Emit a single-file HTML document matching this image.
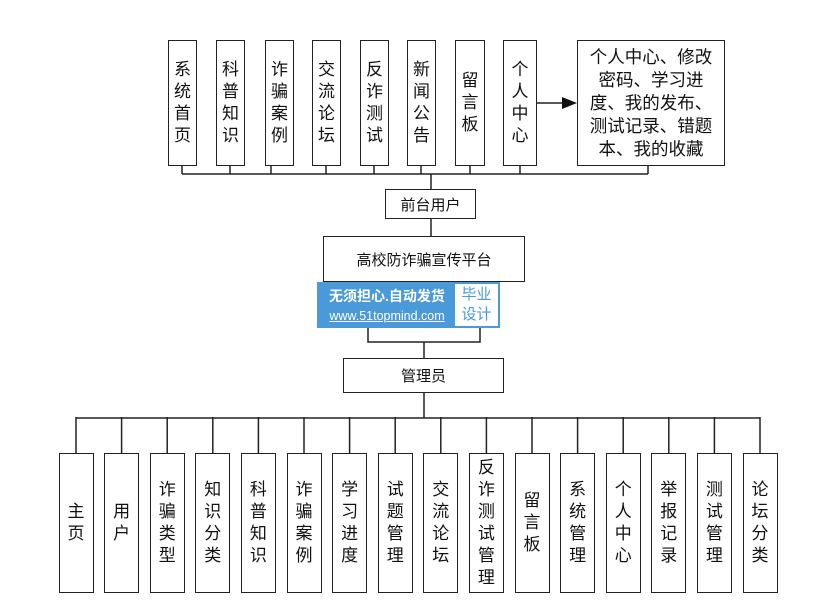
<!DOCTYPE html>
<html><head><meta charset="utf-8"><style>
body{margin:0;background:#fff;width:819px;height:611px;position:relative;overflow:hidden;font-family:"Liberation Sans","Noto Sans CJK SC",sans-serif;color:#111}
.b{position:absolute;border:1.3px solid #222;box-sizing:border-box;display:flex;align-items:center;justify-content:center;text-align:center;background:#fff}
.v{font-size:17px;line-height:22px;width:1em}
.h{font-size:15px}
svg{position:absolute;left:0;top:0}
</style></head><body>
<svg width="819" height="611">
<g stroke="#222" stroke-width="1.5" fill="none">
<path d="M182 166V174M230 166V174M271 166V174M326 166V174M374 166V174M421 166V174M470 166V174M520 166V174M648 166V174M182 174H648M431 174V189M431 219V236"/>
<path d="M505 103H562"/>
<path d="M368 328V342H480V328M424 342V358M424 393V418"/>
<path d="M76 418H760"/>
</g>
<polygon points="562,97 577,103 562,109" fill="#111"/>
<g stroke="#222" stroke-width="1.5" id="st"></g>
</svg>
<div class="b" style="left:168px;top:40px;width:29px;height:126px"><div class="v">系统首页</div></div>
<div class="b" style="left:216px;top:40px;width:29px;height:126px"><div class="v">科普知识</div></div>
<div class="b" style="left:265px;top:40px;width:29px;height:126px"><div class="v">诈骗案例</div></div>
<div class="b" style="left:312px;top:40px;width:29px;height:126px"><div class="v">交流论坛</div></div>
<div class="b" style="left:360px;top:40px;width:29px;height:126px"><div class="v">反诈测试</div></div>
<div class="b" style="left:407px;top:40px;width:29px;height:126px"><div class="v">新闻公告</div></div>
<div class="b" style="left:455px;top:40px;width:30px;height:126px"><div class="v">留言板</div></div>
<div class="b" style="left:503px;top:40px;width:34px;height:126px"><div class="v">个人中心</div></div>
<div class="b" style="left:577px;top:40px;width:148px;height:126px"><div style="font-size:17.5px;line-height:23px;width:132px">个人中心、修改密码、学习进度、我的发布、测试记录、错题本、我的收藏</div></div>
<div class="b h" style="left:385px;top:189px;width:91px;height:30px">前台用户</div>
<div class="b h" style="left:323px;top:236px;width:202px;height:46px">高校防诈骗宣传平台</div>
<div style="position:absolute;left:317px;top:282px;width:183px;height:46px;background:#4a9ad9"></div>
<div style="position:absolute;left:320px;top:286px;width:134px;color:#fff;font-size:14px;font-weight:bold;line-height:20px;text-align:center">无须担心.自动发货</div>
<div style="position:absolute;left:320px;top:307px;width:134px;color:#fff;font-size:12.5px;line-height:18px;text-align:center;text-decoration:underline">www.51topmind.com</div>
<div style="position:absolute;left:455px;top:284px;width:43px;height:42px;background:#fff;color:#4a9ad9;font-size:15px;line-height:20px;text-align:center;padding-top:1px;box-sizing:border-box">毕业<br>设计</div>
<div class="b h" style="left:343px;top:358px;width:161px;height:35px">管理员</div>
<div id="bot"></div>
<script>
var n=["主页","用户","诈骗类型","知识分类","科普知识","诈骗案例","学习进度","试题管理","交流论坛","反诈测试管理","留言板","系统管理","个人中心","举报记录","测试管理","论坛分类"];
var h="",s="";
for(var i=0;i<16;i++){var x=58.5+i*45.6;
h+='<div class="b" style="left:'+x.toFixed(1)+'px;top:453px;width:35px;height:140px"><div class="v">'+n[i]+'</div></div>';
var c=(x+17.5).toFixed(1);s+='<line x1="'+c+'" y1="417" x2="'+c+'" y2="453"/>';}
document.getElementById("bot").innerHTML=h;
document.getElementById("st").innerHTML=s;
</script>
</body></html>
